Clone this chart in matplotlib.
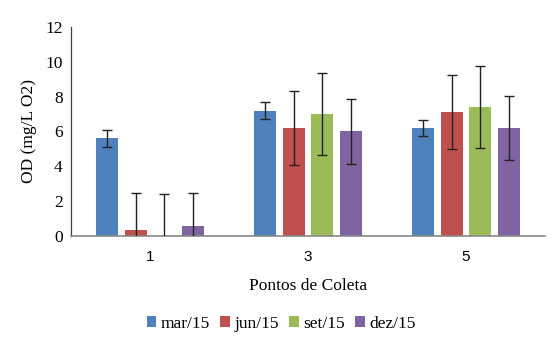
import numpy as np
import matplotlib.pyplot as plt

pontos = ['1', '3', '5']
series = ['mar/15', 'jun/15', 'set/15', 'dez/15']
mar15 = [5.6, 7.2, 6.2]
jun15 = [0.34, 6.2, 7.1]
set15 = [0.0, 7.0, 7.4]
dez15 = [0.6, 6.0, 6.2]
err_mar = [0.47, 0.47, 0.47]
err_jun = [2.12, 2.12, 2.12]
err_set = [2.38, 2.38, 2.38]
err_dez = [1.86, 1.86, 1.86]
colors = ['#4F81BD', '#C0504D', '#9BBB59', '#8064A2']

plt.rcParams['font.family'] = ['Liberation Serif', 'DejaVu Serif']

fig = plt.figure(figsize=(5.55, 3.4), dpi=100)
ax = fig.add_axes([0.128, 0.306, 0.854, 0.615])

x = np.arange(len(pontos))
width = 0.139
step = 0.182
values = [mar15, jun15, set15, dez15]
errs = [err_mar, err_jun, err_set, err_dez]
for i, (name, vals, e) in enumerate(zip(series, values, errs)):
    pos = x + (i - 1.5) * step
    ax.bar(pos, vals, width, color=colors[i], label=name, zorder=2)
    ax.errorbar(pos, vals, yerr=e, fmt='none', ecolor='#222222',
                elinewidth=1.0, capsize=3.5, capthick=1.0, zorder=3)

ax.set_xlim(-0.5, 2.5)
ax.set_ylim(0, 12)
ax.set_yticks(range(0, 13, 2))
ax.set_xticks(x)
ax.set_xticklabels(pontos, fontfamily='Liberation Sans', fontsize=11)
ax.tick_params(axis='y', length=0, labelsize=12.5)
ax.tick_params(axis='x', length=0, pad=10)
ax.tick_params(axis='y', pad=6)
for s in ['top', 'right']:
    ax.spines[s].set_visible(False)
ax.spines['left'].set_color('#404040')
ax.spines['left'].set_linewidth(0.9)
ax.spines['bottom'].set_color('#888888')
ax.spines['bottom'].set_linewidth(1.2)

ax.set_ylabel('OD (mg/L O2)', fontsize=12.5, labelpad=6)
ax.set_xlabel('Pontos de Coleta', fontsize=12.5, labelpad=10)

ax.legend(loc='center', bbox_to_anchor=(0.443, -0.42), ncol=4, frameon=False,
          fontsize=12.5, handlelength=0.55, handleheight=0.55, handletextpad=0.25,
          columnspacing=0.6)

fig.savefig('out.png', dpi=100)
